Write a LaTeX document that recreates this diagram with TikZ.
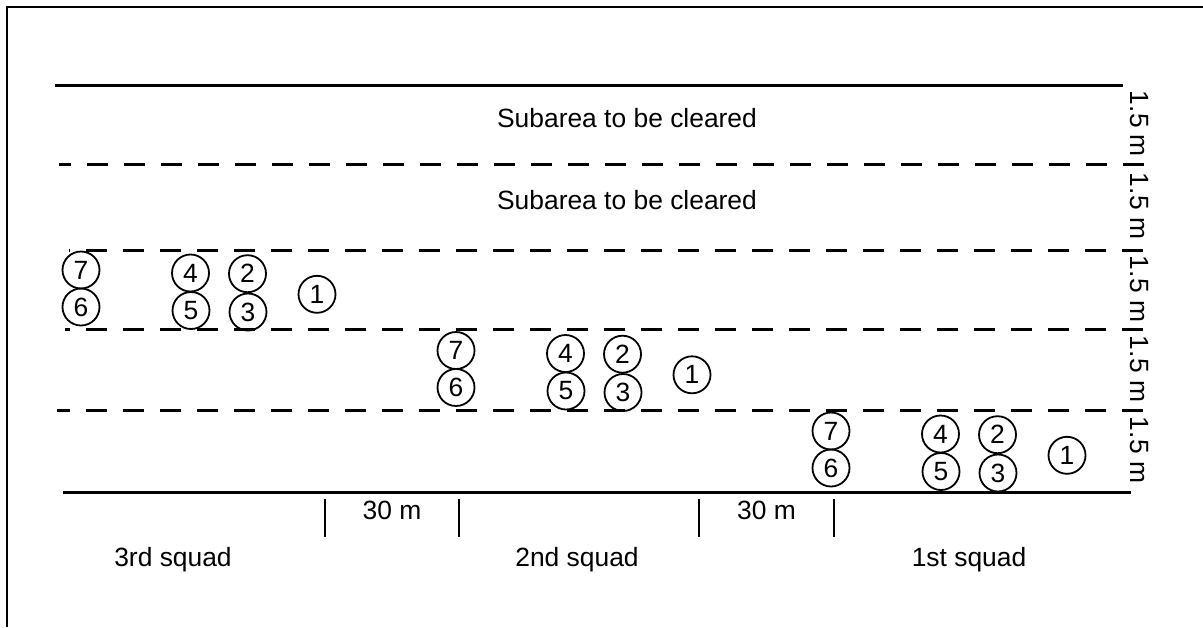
\documentclass[tikz,border=0pt]{standalone}
\usepackage{fontspec}
\setmainfont{Liberation Sans}
\usetikzlibrary{positioning}

\tikzset{
    soldier/.style={circle, draw, line width=0.9pt, minimum size=18.5pt, inner sep=0pt, font=\fontsize{13.2}{16}\selectfont},
    bandline/.style={line width=1.5pt, dash pattern=on 10.5pt off 8pt},
    edgeline/.style={line width=1.5pt},
    label/.style={font=\fontsize{13.2}{16}\selectfont}
}

\begin{document}
\begin{tikzpicture}[x=0.5pt, y=-0.5pt]
    \useasboundingbox (0,0) rectangle (1203,627);

    % frame
    \draw[line width=1pt] (1203,7) -- (7,7) -- (7,627);

    % lanes
    \draw[edgeline] (55,85) -- (1123,85);
    \draw[bandline] (1144,164) -- (59,164);
    \draw[bandline] (1143,250) -- (69,250);
    \draw[bandline] (1143,329) -- (65,329);
    \draw[bandline] (1143,410) -- (57,410);
    \draw[edgeline] (63,492) -- (1131,492);

    \node[label] (sub-a) at (627,118) {Subarea to be cleared};
    \node[label] (sub-b) at (627,200) {Subarea to be cleared};

    % lane widths
    \foreach \y [count=\i] in {124, 206, 289, 369, 450} {
        \node[label, rotate=-90] (w\i) at (1139,\y) {1.5 m};
    }

    % squads, one step back and one lane over each
    \foreach \sq/\dx/\dy in {3/0/0, 2/375/80.5, 1/750/161} {
        \begin{scope}[shift={(\dx,\dy)}]
            \node[soldier] (s\sq-7) at (81,270) {7};
            \node[soldier] (s\sq-6) at (81,307) {6};
            \node[soldier] (s\sq-4) at (190.5,273) {4};
            \node[soldier] (s\sq-5) at (191,310.5) {5};
            \node[soldier] (s\sq-2) at (247.5,273.7) {2};
            \node[soldier] (s\sq-3) at (248,312) {3};
            \node[soldier] (s\sq-1) at (317,294.3) {1};
        \end{scope}
    }

    % distances between squads
    \foreach \x in {325, 459, 699, 834} {
        \draw[line width=1pt] (\x,499) -- (\x,537);
    }
    \node[label] (gap-a) at (392,510) {30 m};
    \node[label] (gap-b) at (766.5,510) {30 m};

    \node[label] (sq3) at (173,560) {3rd squad};
    \node[label] (sq2) at (577,560) {2nd squad};
    \node[label] (sq1) at (969,560) {1st squad};
\end{tikzpicture}
\end{document}
